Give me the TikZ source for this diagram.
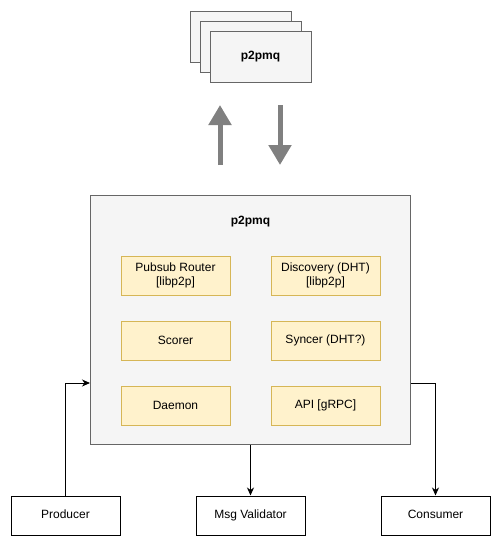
\documentclass[tikz,border=0pt]{standalone}
\usepackage{fontspec}
\setmainfont{Liberation Sans}
\usetikzlibrary{arrows.meta}
\definecolor{panelfill}{HTML}{F5F5F5}
\definecolor{paneldraw}{HTML}{666666}
\definecolor{partfill}{HTML}{FFF2CC}
\definecolor{partdraw}{HTML}{D6B656}
\definecolor{blockgray}{HTML}{808080}
\newcommand{\lbl}{\fontsize{12}{14}\selectfont}

\begin{document}
\begin{tikzpicture}[x=1pt, y=-1pt,
	panel/.style={draw=paneldraw, fill=panelfill, line width=1pt, inner sep=0pt},
	part/.style={draw=partdraw, fill=partfill, line width=1pt, inner sep=0pt,
		minimum width=109pt, minimum height=39pt, align=center, font=\lbl},
	actor/.style={draw=black, fill=white, line width=1pt, inner sep=0pt,
		minimum width=109pt, minimum height=39pt, font=\lbl,
		text height=9pt, text depth=2.5pt},
	flow/.style={line width=1pt, -{Stealth[length=8pt, width=7pt, inset=2.5pt]}},
	block/.style={line width=5pt, blockgray, -{Triangle[length=20pt, width=22pt]}}]
	\useasboundingbox (0,0) rectangle (501,547);
	% stacked instances
	\node [panel, minimum width=101pt, minimum height=51pt] (card3) at (240.5,36.5) {};
	\node [panel, minimum width=101pt, minimum height=51pt] (card2) at (250.5,46.5) {};
	\node [panel, minimum width=101pt, minimum height=51pt, font=\lbl\bfseries] (card1) at (260.5,56.5) {p2pmq};
	\coordinate (upfoot) at (220,165);
	\coordinate (uptip) at (220,105);
	\coordinate (downfoot) at (280,105);
	\coordinate (downtip) at (280,165);
	\draw [ block ] (upfoot) -- (uptip);
	\draw [ block ] (downfoot) -- (downtip);
	% main node
	\node [panel, minimum width=320pt, minimum height=249pt] (core) at (250.5,320) {};
	\node [font=\lbl\bfseries] (title) at (250.5,222) {p2pmq};
	\node [part] (router) at (175.5,275.5) {Pubsub Router\\{}[libp2p]};
	\node [part] (discovery) at (325.5,275.5) {Discovery (DHT)\\{}[libp2p]};
	\node [part] (scorer) at (175.5,340.5) {Scorer};
	\node [part] (syncer) at (325.5,340.5) {Syncer (DHT?)};
	\node [part] (daemon) at (175.5,405.5) {Daemon};
	\node [part] (api) at (325.5,405.5) {API [gRPC]};
	% outside
	\node [actor] (producer) at (65.5,515.5) {Producer};
	\node [actor] (validator) at (250.5,515.5) {Msg Validator};
	\node [actor] (consumer) at (435.5,515.5) {Consumer};
	\draw [ flow ]
	  (producer.north) |- 
	  ([yshift=-63pt]core.west);
	\draw [ flow ]
	  (core.south) -- 
	  (validator.north);
	\draw [ flow ]
	  ([yshift=-63pt]core.east) -| 
	  (consumer.north);
\end{tikzpicture}
\end{document}
